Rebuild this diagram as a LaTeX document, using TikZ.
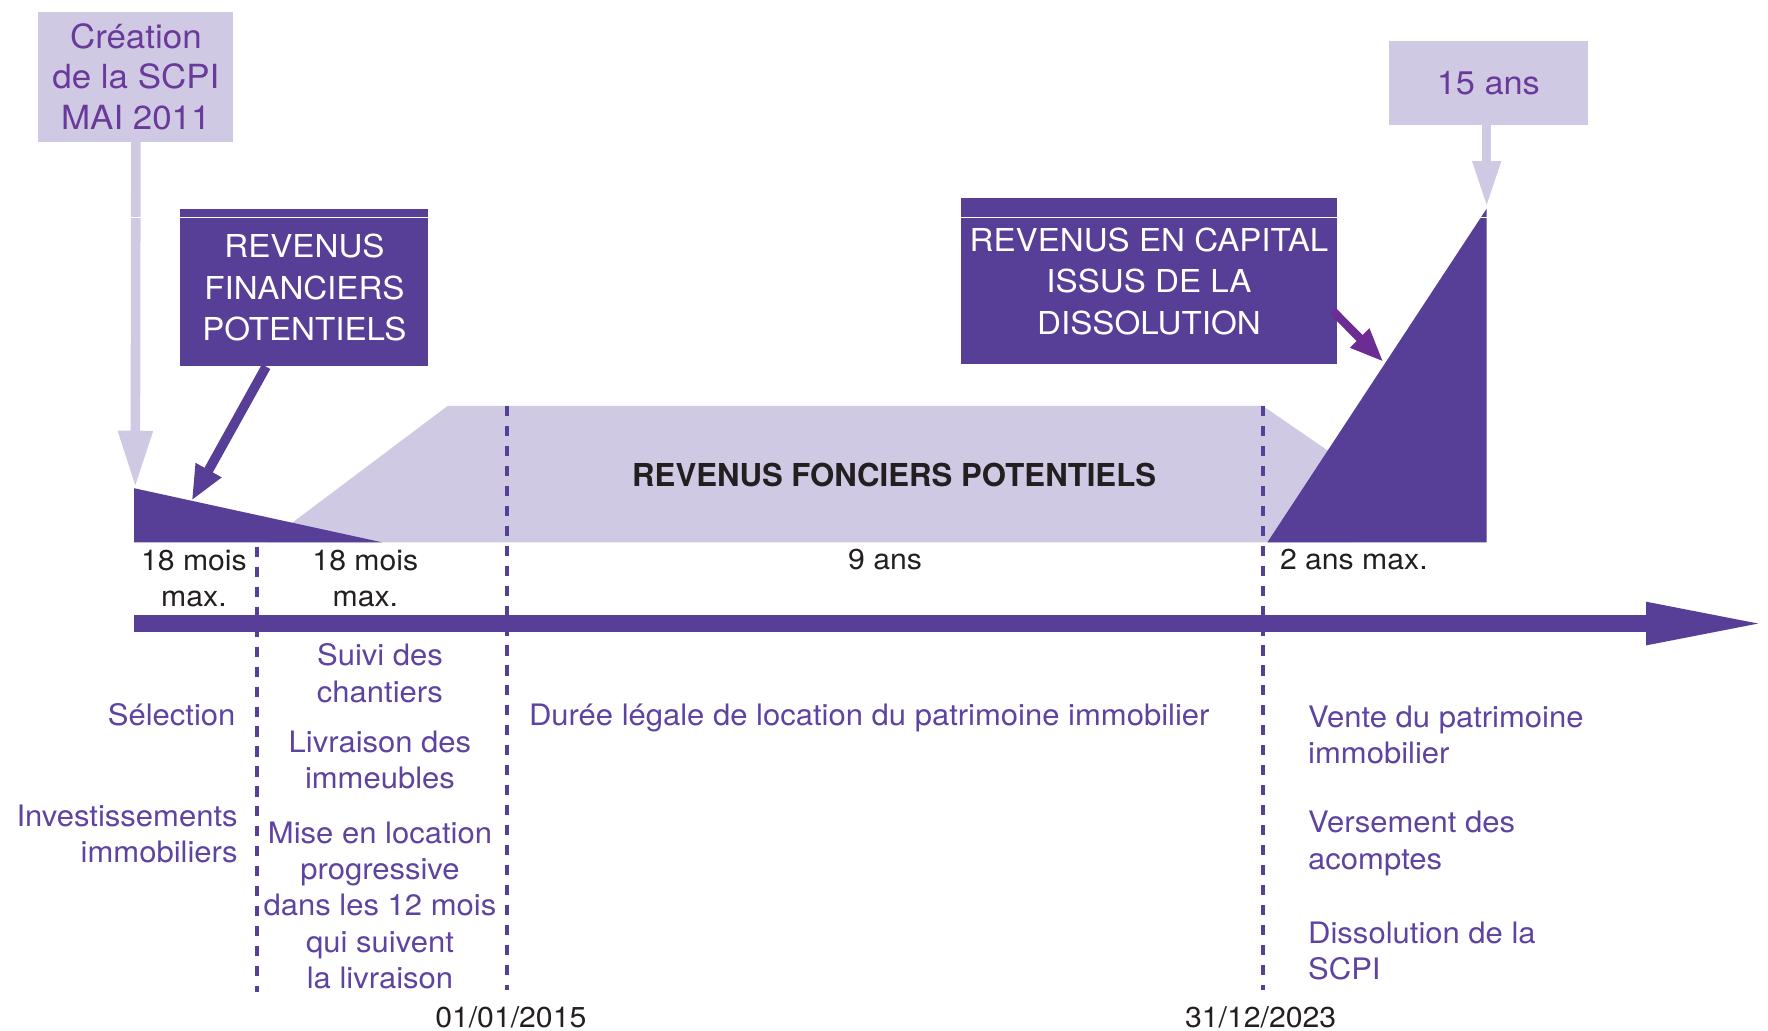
\documentclass[tikz,border=0pt]{standalone}
\usepackage{fontspec}
\setmainfont[FakeStretch=1.05]{TeX Gyre Heros}
\usetikzlibrary{arrows.meta}
\definecolor{dkpurple}{HTML}{573E96}
\definecolor{lav}{HTML}{D0C9E4}
\definecolor{txtpurple}{HTML}{5E43A0}
\definecolor{titlepurple}{HTML}{6A3A9A}
\definecolor{magarrow}{HTML}{6B2D91}
\definecolor{darktext}{HTML}{231F20}
\tikzset{
 lavbox/.style={fill=lav, draw=none, text=titlepurple, align=center, inner sep=0pt},
 darkbox/.style={fill=dkpurple, draw=none, text=white, align=center, inner sep=0pt, font=\fontsize{28}{37}\selectfont},
 lavarrow/.style={draw=lav, line width=8.5pt},
 darkarrow/.style={draw=dkpurple, line width=8.5pt, -{Triangle[length=31pt,width=24pt]}},
 magarrowst/.style={draw=magarrow, line width=7.5pt, -{Triangle[length=30pt,width=22pt]}},
 dotline/.style={draw=dkpurple, line width=3.5pt, dash pattern=on 9pt off 8.7pt},
 darklabel/.style={text=darktext, align=center, inner sep=0pt, font=\fontsize{25.5}{32}\selectfont},
 purplabel/.style={text=txtpurple, inner sep=0pt, font=\fontsize{26.2}{32}\selectfont},
}
\begin{document}
\begin{tikzpicture}[x=1pt,y=-1pt]
\useasboundingbox (0,0) rectangle (1568,914);

% band shapes
\fill[lav] (236,481) -- (397,360) -- (1120,360) -- (1200,415) -- (1200,481) -- cycle;
\fill[dkpurple] (119,433) -- (339,481) -- (119,481) -- cycle;
\fill[dkpurple] (1124,481) -- (1318.5,185) -- (1318.5,481) -- cycle;
\node[font=\fontsize{28}{30}\selectfont\bfseries, text=darktext, inner sep=0pt, xscale=0.94] (fonc) at (793,421) {REVENUS FONCIERS POTENTIELS};

% boxes
\node[lavbox, minimum width=173pt, minimum height=115pt, font=\fontsize{29.5}{36}\selectfont] (creation) at (120.5,68) {Création\\de la SCPI\\MAI 2011};
\node[darkbox, minimum width=220pt, minimum height=140pt] (fin) at (270,255) {REVENUS\\FINANCIERS\\POTENTIELS};
\node[darkbox, minimum width=334pt, minimum height=147pt] (cap) at (1019,249.5) {REVENUS EN CAPITAL\\ISSUS DE LA\\DISSOLUTION};
\node[lavbox, minimum width=176pt, minimum height=75pt, font=\fontsize{29}{36}\selectfont] (quinze) at (1320,73.5) {15 ans};

% arrow end points
\coordinate (ctip) at (120,432);
\coordinate (ftip) at (170,444);
\coordinate (ktip) at (1227,321);
\coordinate (qtip) at (1318.5,184);
\coordinate (t0) at (119,553);
\coordinate (t1) at (1568,553);

% arrows
\draw[lavarrow, -{Triangle[length=50pt,width=29pt]}] (creation.south) -- (ctip);
\draw[lavarrow, -{Triangle[length=41pt,width=23pt]}] ([xshift=-1.5pt]quinze.south) -- (qtip);
\draw[darkarrow] ([xshift=-34pt]fin.south) -- (ftip);
\draw[magarrowst] ([xshift=-4pt,yshift=-26.5pt]cap.east) -- (ktip);
\draw[white, line width=1.2pt] (100,193) -- (1330,193);

% timeline
\draw[dkpurple, line width=14.5pt, -{Triangle[length=108pt,width=34pt]}] (t0) -- (t1);

% dotted separators
\coordinate (s1a) at (228,485); \coordinate (s1b) at (228,880);
\coordinate (s2a) at (450,360); \coordinate (s2b) at (450,878);
\coordinate (s3a) at (1120,360); \coordinate (s3b) at (1120,878);
\draw[dotline] (s1a) -- (s1b);
\draw[dotline] (s2a) -- (s2b);
\draw[dotline] (s3a) -- (s3b);

% durations
\node[darklabel] (d1) at (172,513) {18 mois\\max.};
\node[darklabel] (d2) at (324,513) {18 mois\\max.};
\node[darklabel, anchor=base] (d3) at (785,505) {9 ans};
\node[darklabel, anchor=base west] (d4) at (1135,505) {2 ans max.};
\node[darklabel, anchor=base] (date1) at (453,911) {01/01/2015};
\node[darklabel, anchor=base] (date2) at (1118,911) {31/12/2023};

% phase texts
\node[purplabel, anchor=base east] (sel) at (209,643) {Sélection};
\node[purplabel, align=right, anchor=east] (inv) at (211,740) {Investissements\\immobiliers};
\node[purplabel, align=center] (suivi) at (337,597) {Suivi des\\chantiers};
\node[purplabel, align=center] (livr) at (337,674) {Livraison des\\immeubles};
\node[purplabel, align=center] (mise) at (337,803) {Mise en location\\progressive\\dans les 12 mois\\qui suivent\\la livraison};
\node[purplabel, anchor=base west] (duree) at (469,643) {Durée légale de location du patrimoine immobilier};
\node[purplabel, align=left, anchor=west] (vente) at (1160,652) {Vente du patrimoine\\immobilier};
\node[purplabel, align=left, anchor=west] (vers) at (1160,748) {Versement des\\acomptes};
\node[purplabel, align=left, anchor=west] (diss) at (1160,843) {Dissolution de la\\SCPI};
\end{tikzpicture}
\end{document}
